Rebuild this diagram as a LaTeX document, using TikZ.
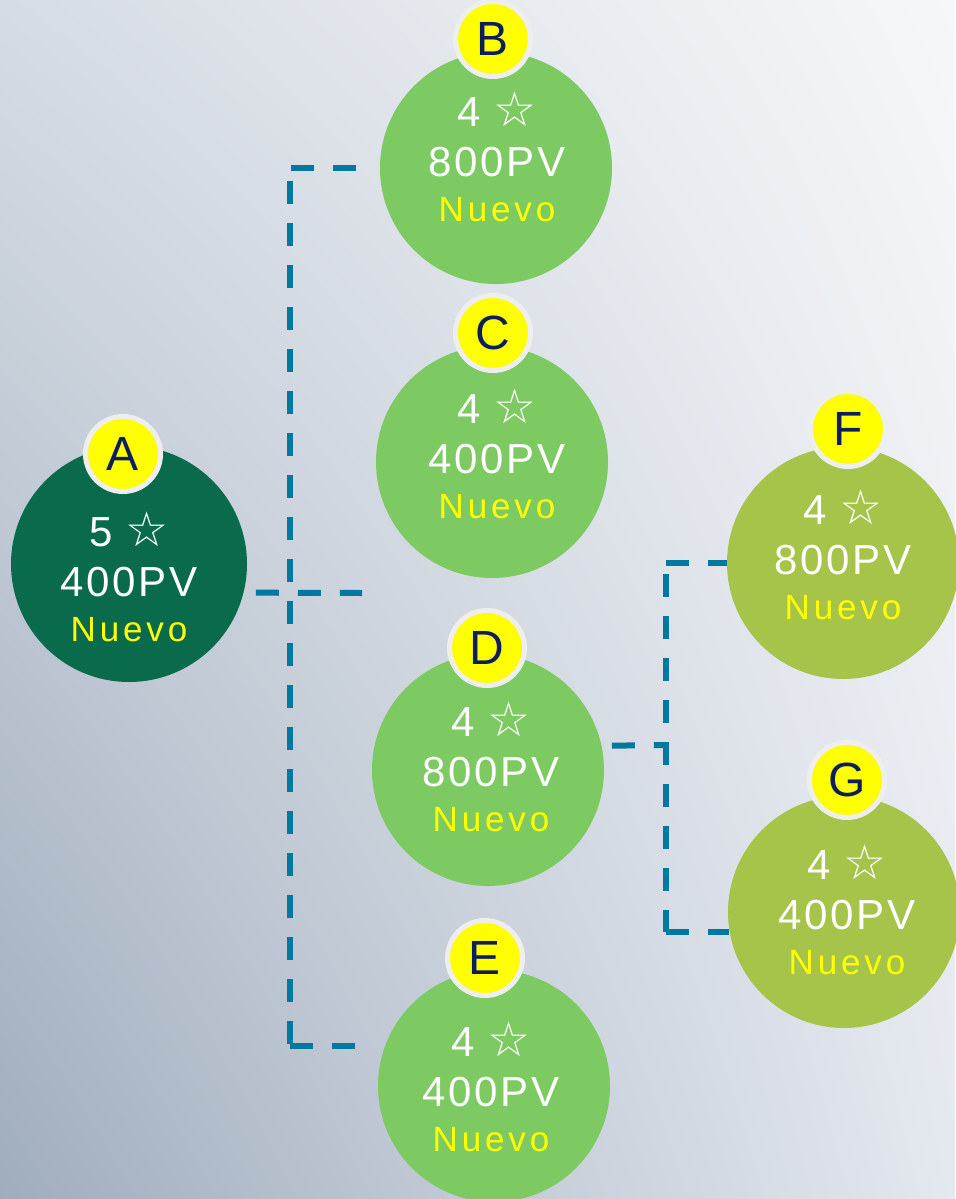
\documentclass[tikz,border=0pt]{standalone}
\usepackage{fontspec}
\usepackage{xcolor}
\usetikzlibrary{shadings}
\setmainfont{Liberation Sans}
\newfontfamily\starfont{DejaVu Sans}
\newfontfamily\pvfont[LetterSpace=6]{Liberation Sans}
\newfontfamily\nuevofont[LetterSpace=11]{Liberation Sans}

\definecolor{bgtl}{RGB}{214,220,228}
\definecolor{bgtr}{RGB}{246,247,249}
\definecolor{bgbl}{RGB}{160,173,189}
\definecolor{bgbr}{RGB}{228,232,239}
\definecolor{topgreen}{RGB}{10,107,76}
\definecolor{midgreen}{RGB}{125,201,98}
\definecolor{olivegreen}{RGB}{166,195,74}
\definecolor{tagring}{RGB}{238,238,238}
\definecolor{tagyellow}{RGB}{255,255,0}
\definecolor{tagnavy}{RGB}{12,30,92}
\definecolor{linkblue}{RGB}{0,120,160}

\newcommand{\stars}[1]{#1\hspace{6.5pt}{\starfont\fontsize{24}{25}\selectfont ☆}}
\newcommand{\points}[1]{{\pvfont #1PV}}
\newcommand{\nuevo}{{\nuevofont\fontsize{17.5}{22}\selectfont\color{tagyellow}Nuevo}}

\begin{document}
\begin{tikzpicture}[x=0.5pt,y=-0.5pt,
    member/.style={circle,inner sep=0pt,minimum size=116pt},
    info/.style={align=center,text=white,inner sep=0pt,font=\fontsize{21}{25}\selectfont},
    tag/.style={circle,fill=tagyellow,draw=tagring,line width=2.5pt,
      minimum size=37.5pt,inner sep=0pt,text=tagnavy,font=\fontsize{24}{24}\selectfont},
    link/.style={draw=linkblue,line width=3pt,dash pattern=on 11.5pt off 9.5pt}]

  % background
  \useasboundingbox (0,0) rectangle (955,1199);
  \shade[upper left=bgtl,upper right=bgtr,lower left=bgbl,lower right=bgbr]
    (0,0) rectangle (955,1199);

  % members
  \node[member,fill=topgreen,minimum size=118pt] at (129,564) (a) {};
  \node[member,fill=midgreen] at (496,168) (b) {};
  \node[member,fill=midgreen] at (492,462) (c) {};
  \node[member,fill=midgreen] at (488,770) (d) {};
  \node[member,fill=midgreen] at (494,1086) (e) {};
  \node[member,fill=olivegreen] at (843,563) (f) {};
  \node[member,fill=olivegreen] at (844,912) (g) {};

  \node[info] at (129,577) (a-info) {\stars{5}\\ \points{400}\\[-2.5pt] \nuevo};
  \node[info] at (497,157) (b-info) {\stars{4}\\ \points{800}\\[-2.5pt] \nuevo};
  \node[info] at (497,454) (c-info) {\stars{4}\\ \points{400}\\[-2.5pt] \nuevo};
  \node[info] at (491,767) (d-info) {\stars{4}\\ \points{800}\\[-2.5pt] \nuevo};
  \node[info] at (491,1087) (e-info) {\stars{4}\\ \points{400}\\[-2.5pt] \nuevo};
  \node[info] at (843,555) (f-info) {\stars{4}\\ \points{800}\\[-2.5pt] \nuevo};
  \node[info] at (847,910) (g-info) {\stars{4}\\ \points{400}\\[-2.5pt] \nuevo};

  % connectors
  \coordinate (root) at (290,593);
  \coordinate (a-end) at (362,593);
  \coordinate (fork) at (666,745);
  \draw[link,shorten <=12pt] (b.west) -- (b.west -| root);
  \draw[link,shorten <=6.5pt] (b.west -| root) -- (e.160 -| root);
  \draw[link,shorten >=14.5pt] (e.160 -| root) -- (e.160);
  \draw[link,shorten <=6pt] (a.-14) -- (a-end);
  \draw[link,shorten <=5pt] (d.12) -- (fork);
  \draw[link] (f.west -| fork) -- (f.west);
  \draw[link,shorten <=5.5pt] (f.west -| fork) -- (g.-170 -| fork);
  \draw[link] (g.-170 -| fork) -- (g.-170);

  % letters
  \node[tag] at (123,454) (a-tag) {A};
  \node[tag] at (493,39) (b-tag) {B};
  \node[tag] at (493,333) (c-tag) {C};
  \node[tag] at (487,648) (d-tag) {D};
  \node[tag] at (485,958) (e-tag) {E};
  \node[tag] at (848,429) (f-tag) {F};
  \node[tag] at (847,780) (g-tag) {G};
\end{tikzpicture}
\end{document}
